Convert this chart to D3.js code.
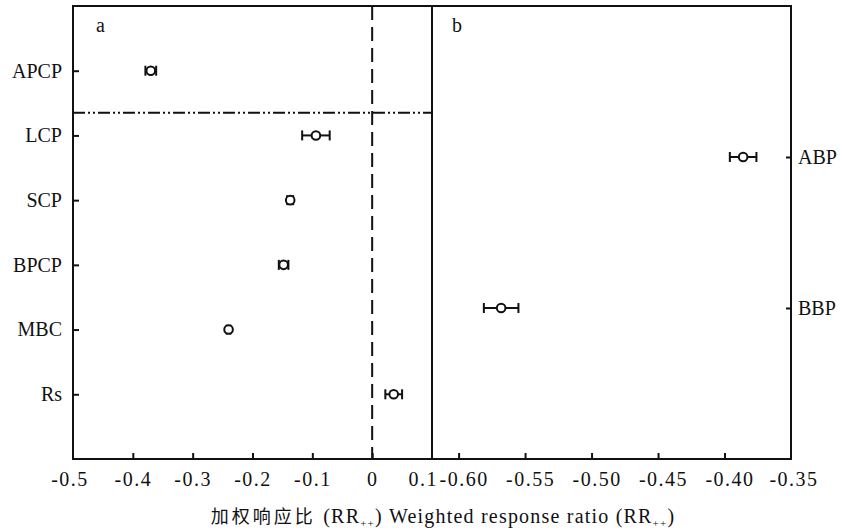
<!DOCTYPE html>
<html>
<head>
<meta charset="utf-8">
<script src="https://cdn.jsdelivr.net/npm/d3@7"></script>
<style>
  body { margin: 0; background: #fff; }
  text { font-family: "Liberation Serif", "DejaVu Serif", "Noto Sans CJK SC", serif; fill: #111; }
</style>
</head>
<body>
<svg id="chart" width="842" height="531"></svg>
<script>
// panel a
const catsA = ["APCP", "LCP", "SCP", "BPCP", "MBC", "Rs"];
const meanA = [-0.370, -0.094, -0.137, -0.148, -0.240, 0.036];
const errA  = [0.009, 0.023, 0.005, 0.008, 0.003, 0.014];
const ticksA = [-0.5, -0.4, -0.3, -0.2, -0.1, 0, 0.1];
// panel b
const catsB = ["ABP", "BBP"];
const meanB = [-0.386, -0.568];
const errB  = [0.010, 0.013];
const ticksB = [-0.60, -0.55, -0.50, -0.45, -0.40, -0.35];

const svg = d3.select("#chart");
const y0 = 6, y1 = 459, xL = 73, xM = 432, xR = 791;

const xA = d3.scaleLinear().domain([-0.5, 0.1]).range([xL, xM]);
const xB = d3.scaleLinear().domain([-0.62, -0.35]).range([xM, xR]);
const yA = d3.scaleLinear().domain([0, 7]).range([y0, y1]);
const yB = d3.scaleLinear().domain([0, 3]).range([y0, y1]);

// reference lines
svg.append("line").attr("x1", xA(0)).attr("x2", xA(0))
  .attr("y1", y0).attr("y2", y1)
  .style("stroke", "#111").style("stroke-width", "2px").style("stroke-dasharray", "14,7");
svg.append("line").attr("x1", xL).attr("x2", xM)
  .attr("y1", yA(1.65)).attr("y2", yA(1.65))
  .style("stroke", "#111").style("stroke-width", "2px").style("stroke-dasharray", "12,3,2,3,2,3");

// axes
const fmtA = d => d === 0 ? "0" : d3.format(".1f")(d).replace("−", "-");
const fmtB = d => d3.format(".2f")(d).replace("−", "-");

const axA = svg.append("g").attr("transform", `translate(0,${y1})`)
  .call(d3.axisBottom(xA).tickValues(ticksA.slice(1, -1)).tickFormat(fmtA).tickSize(-6).tickPadding(13));
const axB = svg.append("g").attr("transform", `translate(0,${y1})`)
  .call(d3.axisBottom(xB).tickValues(ticksB.slice(0, -1)).tickFormat(fmtB).tickSize(-6).tickPadding(13));
axB.selectAll(".tick text").attr("dx", 5);
// end labels sit on the frame corners
const ends = svg.append("g").selectAll("text")
  .data([[xA(-0.5) - 3, "-0.5", "middle"], [xA(0.1) + 6, "0.1", "end"], [xB(-0.35) + 3, "-0.35", "middle"]])
  .enter().append("text")
  .attr("x", d => d[0]).attr("y", y1 + 13).attr("dy", "0.71em")
  .attr("text-anchor", d => d[2]).text(d => d[1]);

const ayA = svg.append("g").attr("transform", `translate(${xL},0)`)
  .call(d3.axisLeft(yA).tickValues(d3.range(1, 7)).tickFormat(i => catsA[i - 1]).tickSize(-6).tickPadding(11));
const ayB = svg.append("g").attr("transform", `translate(${xR},0)`)
  .call(d3.axisRight(yB).tickValues([1, 2]).tickFormat(i => catsB[i - 1]).tickSize(-5).tickPadding(7));

[axA, axB, ayA, ayB].forEach(g => {
  g.select(".domain").remove();
  g.selectAll(".tick line").style("stroke", "#111").style("stroke-width", "2px");
  g.selectAll("text").style("font-size", "20px").style("fill", "#111")
    .style("font-family", "'Liberation Serif', serif");
});
[axA, axB].forEach(g => g.selectAll("text").style("letter-spacing", "1.5px"));
ends.style("font-size", "20px").style("letter-spacing", "1.5px");

// frame
svg.append("rect").attr("x", xL).attr("y", y0).attr("width", xR - xL).attr("height", y1 - y0)
  .style("fill", "none").style("stroke", "#111").style("stroke-width", "2px");
svg.append("line").attr("x1", xM).attr("x2", xM).attr("y1", y0).attr("y2", y1)
  .style("stroke", "#111").style("stroke-width", "2px");

// error bars + points
function drawPoints(cats, mean, err, x, y) {
  const g = svg.append("g");
  const rows = cats.map((c, i) => ({ c, i: i + 1, m: mean[i], e: err[i] }));
  const pt = g.selectAll("g").data(rows).enter().append("g");
  pt.append("line").attr("x1", d => x(d.m - d.e)).attr("x2", d => x(d.m + d.e))
    .attr("y1", d => y(d.i)).attr("y2", d => y(d.i));
  pt.append("line").attr("x1", d => x(d.m - d.e)).attr("x2", d => x(d.m - d.e))
    .attr("y1", d => y(d.i) - 5).attr("y2", d => y(d.i) + 5);
  pt.append("line").attr("x1", d => x(d.m + d.e)).attr("x2", d => x(d.m + d.e))
    .attr("y1", d => y(d.i) - 5).attr("y2", d => y(d.i) + 5);
  pt.selectAll("line").style("stroke", "#111").style("stroke-width", "2px");
  pt.append("circle").attr("cx", d => x(d.m)).attr("cy", d => y(d.i)).attr("r", 4.3)
    .style("fill", "#fff").style("stroke", "#111").style("stroke-width", "2px");
}
drawPoints(catsA, meanA, errA, xA, yA);
drawPoints(catsB, meanB, errB, xB, yB);

// panel letters
svg.append("text").attr("x", 96).attr("y", 32).style("font-size", "20px").text("a");
svg.append("text").attr("x", 452).attr("y", 32).style("font-size", "20px").text("b");

// axis title
const t = svg.append("text").attr("x", 443).attr("y", 523).attr("text-anchor", "middle")
  .style("font-size", "20px").style("letter-spacing", "1.2px");
t.append("tspan").style("font-size", "18px").style("letter-spacing", "3px").text("加权响应比 ");
t.append("tspan").text("(RR");
t.append("tspan").attr("dy", 4).style("font-size", "11px").text("++");
t.append("tspan").attr("dy", -4).text(") Weighted response ratio (RR");
t.append("tspan").attr("dy", 4).style("font-size", "11px").text("++");
t.append("tspan").attr("dy", -4).text(")");
</script>
</body>
</html>
